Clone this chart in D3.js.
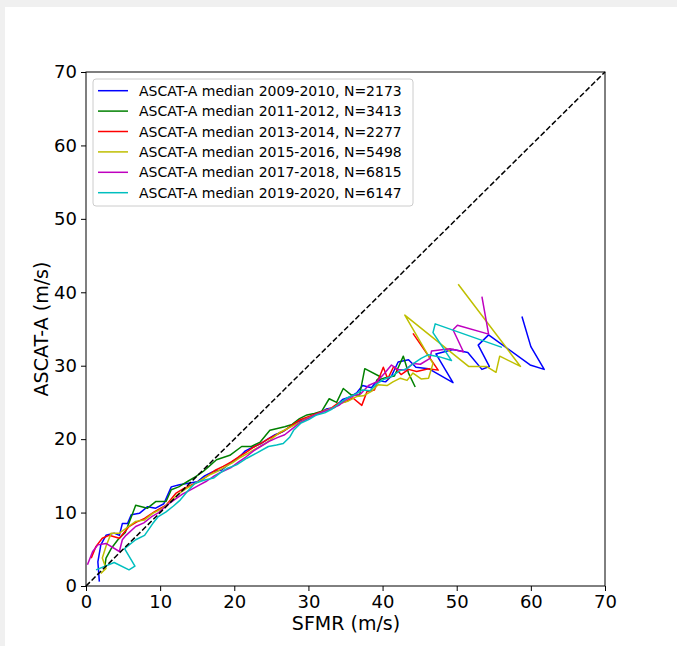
<!DOCTYPE html>
<html>
<head>
<meta charset="utf-8">
<script src="https://cdn.jsdelivr.net/npm/d3@7"></script>
<style>
html,body{margin:0;padding:0;background:#f0f0f0;}
#wrap{position:absolute;left:5px;top:7px;width:672px;height:639px;background:#fff;}
svg{position:absolute;left:0;top:0;}
text{font-family:"DejaVu Sans",sans-serif;fill:#000;}
</style>
</head>
<body>
<div id="wrap"></div>
<svg id="chart" width="677" height="646"></svg>
<script>
const xTicks = [0,10,20,30,40,50,60,70];
const yTicks = [0,10,20,30,40,50,60,70];
const seriesNames = [
  "ASCAT-A median 2009-2010, N=2173",
  "ASCAT-A median 2011-2012, N=3413",
  "ASCAT-A median 2013-2014, N=2277",
  "ASCAT-A median 2015-2016, N=5498",
  "ASCAT-A median 2017-2018, N=6815",
  "ASCAT-A median 2019-2020, N=6147"
];
const seriesColors = ["#0000ff","#008000","#ff0000","#bfbf00","#bf00bf","#00bfbf"];

const blue = [[1.8,0.6],[1.6,3.3],[2.0,5.6],[2.7,6.9],[3.8,7.2],[4.5,6.9],[4.9,8.5],[5.6,8.5],[6.1,9.7],[7.2,9.9],[8.3,10.8],[9.4,10.6],[10.5,11.2],[11.5,13.5],[12.6,13.8],[13.8,14.0],[15,14.2],[16,15],[17.2,15.6],[18.3,15.8],[19.5,16.8],[20.5,17.4],[21.5,18.4],[22.5,18.9],[23.6,19.4],[24.5,20.0],[25.5,20.6],[26.5,21.0],[27.4,21.6],[28.5,22.3],[29.5,22.7],[30.5,23.1],[31.6,23.6],[32.4,24.1],[33.5,24.3],[34.6,25.4],[35.5,25.7],[36.5,26.3],[37.3,27.3],[38.5,27.0],[39.3,28.0],[40.4,27.8],[41.2,28.6],[42.1,30.5],[43.5,30.8],[44.5,29.8],[46.2,29.6],[49.5,27.7],[47.2,31.6],[49.5,32.2],[51.5,31.8],[53.4,29.5],[54.4,29.9],[52.9,32.8],[54.3,34.2],[59.9,30.1],[61.8,29.5],[60.0,32.6],[58.8,36.7]];
const green = [[2.5,2.4],[2.7,3.8],[3.4,5.1],[4.3,6.3],[5.3,7.3],[6.3,9.9],[6.7,11.0],[8.3,10.6],[9.4,11.5],[10.8,11.5],[11.5,13.1],[12.5,13.5],[13.8,14.3],[14.8,14.9],[15.8,15.6],[16.7,16.4],[17.6,17.2],[19.4,17.8],[21,19.0],[22.3,19.0],[23.5,19.6],[24.8,21.2],[26.8,21.7],[27.8,22.0],[28.8,22.8],[29.8,23.3],[30.8,23.5],[31.8,23.8],[32.8,25.5],[33.8,25.0],[34.7,26.9],[35.8,26.0],[36.9,26.0],[37.6,29.6],[39.7,28.5],[39.2,28.0],[40.5,28.4],[41.6,28.6],[42.8,31.3],[43.5,29.0],[44.4,27.1]];
const red = [[0.7,3.8],[1.35,5.4],[2.2,6.5],[3.1,6.9],[4.5,6.5],[5.8,8.1],[6.8,8.7],[7.9,9.2],[9.2,10.1],[10.8,11.0],[12.1,12.6],[13.2,13.3],[14.3,13.8],[15.4,14.3],[16.4,15.0],[17.5,15.8],[18.5,16.3],[19.6,16.9],[20.6,17.6],[21.6,18.2],[22.6,18.9],[23.7,19.5],[24.7,20.1],[25.7,20.6],[26.8,21.2],[27.8,21.9],[28.8,22.6],[29.8,23.0],[30.9,23.4],[31.9,23.8],[32.9,24.1],[34.0,24.9],[35.0,25.1],[36.0,25.6],[37.2,24.6],[37.9,26.5],[38.9,26.7],[40.1,29.8],[40.7,28.2],[41.5,29.9],[42.5,28.8],[43.5,29.5],[44.6,29.2],[46.2,29.6],[47.5,29.4],[44.1,34.4]];
const yellow = [[2.0,1.7],[2.7,2.4],[2.2,3.8],[2.7,5.4],[3.4,7.2],[4.5,7.2],[5.6,8.0],[6.7,8.8],[7.9,9.0],[9.0,9.9],[10.2,10.5],[11.3,11.4],[12.3,12.4],[13.4,13.2],[14.5,13.8],[15.6,14.5],[16.6,15.1],[17.7,15.6],[18.7,16.2],[19.8,16.8],[20.8,17.5],[21.9,18.1],[22.9,18.7],[24.0,19.3],[25.0,20.0],[26.1,20.9],[27.1,21.4],[28.1,21.9],[29.2,22.5],[30.2,23.0],[31.2,23.4],[32.3,23.9],[33.4,24.3],[34.4,24.9],[35.4,25.2],[36.5,25.8],[37.4,25.9],[38.5,26.5],[39.4,27.4],[40.6,27.3],[41.4,27.8],[42.4,28.3],[43.3,28.0],[44.1,29.0],[45.2,28.2],[46.2,28.3],[46.8,30.3],[43.0,36.9],[51.6,29.9],[54.0,29.9],[55.3,29.1],[55.8,31.3],[58.6,29.9],[50.2,41.1]];
const magenta = [[0.2,2.9],[0.9,4.7],[1.6,5.6],[2.7,5.8],[4.5,4.7],[4.9,6.3],[5.4,6.9],[6.7,8.1],[7.8,8.6],[8.8,9.4],[9.8,10.0],[10.9,11.0],[12.0,11.8],[13.0,12.5],[14.1,13.1],[15.2,13.7],[16.3,14.3],[17.3,15.0],[18.4,15.6],[19.5,16.1],[20.6,16.9],[21.6,17.6],[22.6,18.4],[23.7,19.1],[24.7,19.7],[25.8,20.2],[26.8,20.6],[27.8,21.4],[28.8,22.2],[29.9,22.8],[30.9,23.3],[31.9,23.7],[33.0,24.1],[34.1,24.6],[35.1,25.4],[36.1,25.9],[37.1,26.2],[38.1,27.3],[39.2,27.8],[40.3,29.0],[41.2,30.1],[42.0,29.5],[43.0,29.4],[44.1,30.3],[45.1,30.2],[46.4,31.0],[46.6,32.0],[49.1,32.3],[50.9,31.9],[49.5,34.9],[50.1,35.5],[54.3,34.3],[53.4,39.4]];
const cyan = [[1.35,2.2],[3.8,3.2],[5.8,2.2],[6.6,2.7],[5.2,5.1],[6.7,6.3],[7.9,6.9],[9.0,8.5],[9.7,9.4],[10.8,10.1],[11.8,10.9],[12.7,11.7],[13.7,12.9],[14.7,14.0],[15.9,14.4],[17.2,14.7],[18.1,15.4],[19.0,16.0],[20.3,16.5],[21.7,17.4],[23,18.1],[24.6,19.0],[25.7,19.2],[26.6,19.4],[27.5,20.3],[28,21.2],[29.0,22.2],[30.1,22.7],[31.1,23.3],[32.2,23.6],[33.2,24.1],[34.2,24.9],[35.2,25.6],[36.3,26.1],[37.3,26.7],[38.3,26.6],[39.3,27.6],[40.3,28.2],[41.3,28.6],[42.3,29.3],[43.3,29.6],[44.3,30.4],[45.2,31.0],[46.2,31.5],[47.7,31.2],[49.3,30.7],[46.8,34.5],[47.1,35.7],[56.1,32.5]];
const identity = [[0,0],[70,70]];

const series = [blue, green, red, yellow, magenta, cyan];

const svg = d3.select("#chart");
const x = d3.scaleLinear().domain([0,70]).range([86,605]);
const y = d3.scaleLinear().domain([0,70]).range([586,72]);

const line = d3.line().x(d=>x(d[0])).y(d=>y(d[1]));

const g = svg.append("g");
series.forEach((s,i)=>{
  g.append("path").datum(s).attr("d",line)
    .attr("fill","none").attr("stroke",seriesColors[i]).attr("stroke-width",1.5)
    .attr("stroke-linejoin","round");
});
g.append("path").datum(identity).attr("d",line)
  .attr("fill","none").attr("stroke","#000").attr("stroke-width",1.5)
  .attr("stroke-dasharray","5.5,2.4");

// frame
svg.append("rect").attr("x",86).attr("y",72).attr("width",519).attr("height",514)
  .attr("fill","none").attr("stroke","#000").attr("stroke-width",1);

const xAxis = svg.append("g").attr("transform","translate(0,586)")
  .call(d3.axisBottom(x).tickValues(xTicks).tickSize(5).tickPadding(4).tickFormat(d3.format("d")));
const yAxis = svg.append("g").attr("transform","translate(86,0)")
  .call(d3.axisLeft(y).tickValues(yTicks).tickSize(5).tickPadding(4).tickFormat(d3.format("d")));
[xAxis,yAxis].forEach(a=>{
  a.select(".domain").remove();
  a.selectAll("line").attr("stroke","#000");
  a.selectAll("text").attr("font-size","18px").attr("font-family","DejaVu Sans, sans-serif").attr("fill","#000");
});

svg.append("text").attr("x",346).attr("y",630).attr("text-anchor","middle")
  .attr("font-size","19px").text("SFMR (m/s)");
svg.append("text").attr("transform","translate(48,329) rotate(-90)").attr("text-anchor","middle")
  .attr("font-size","19px").text("ASCAT-A (m/s)");

// legend
const lg = svg.append("g");
lg.append("rect").attr("x",93).attr("y",79).attr("width",320).attr("height",127)
  .attr("rx",3).attr("fill","#fff").attr("fill-opacity",0.8).attr("stroke","#cccccc").attr("stroke-width",1);
seriesNames.forEach((n,i)=>{
  const cy = 90.7 + i*20.4;
  lg.append("line").attr("x1",98).attr("x2",128).attr("y1",cy).attr("y2",cy)
    .attr("stroke",seriesColors[i]).attr("stroke-width",1.5);
  lg.append("text").attr("x",139).attr("y",cy+5).attr("font-size","14px").text(n);
});
</script>
</body>
</html>
